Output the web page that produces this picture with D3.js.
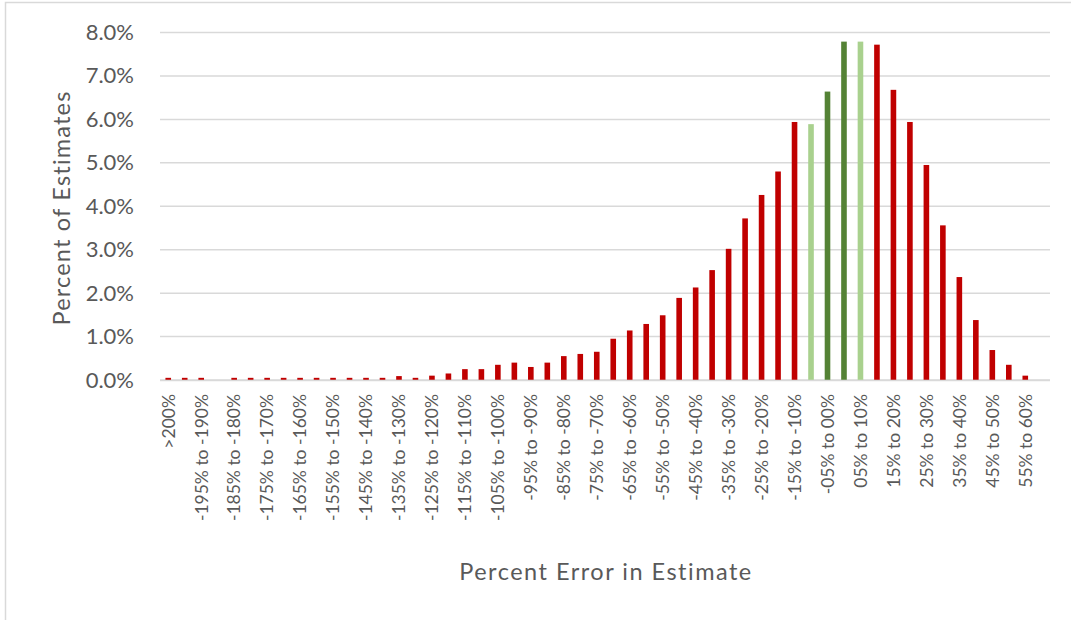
<!DOCTYPE html>
<html>
<head>
<meta charset="utf-8">
<script src="https://cdn.jsdelivr.net/npm/d3@7"></script>
<style>
  html, body { margin: 0; padding: 0; background: #fff; }
  svg { display: block; }
  text { font-family: Lato, "Open Sans", sans-serif; fill: #595959; }
</style>
</head>
<body>
<svg id="chart" width="1071" height="620"></svg>
<script>
// Error buckets (5-point bins), from the overflow bin up to +60%
const categories = [
  ">200%",
  "-200% to -195%", "-195% to -190%", "-190% to -185%", "-185% to -180%",
  "-180% to -175%", "-175% to -170%", "-170% to -165%", "-165% to -160%",
  "-160% to -155%", "-155% to -150%", "-150% to -145%", "-145% to -140%",
  "-140% to -135%", "-135% to -130%", "-130% to -125%", "-125% to -120%",
  "-120% to -115%", "-115% to -110%", "-110% to -105%", "-105% to -100%",
  "-100% to -95%", "-95% to -90%", "-90% to -85%", "-85% to -80%",
  "-80% to -75%", "-75% to -70%", "-70% to -65%", "-65% to -60%",
  "-60% to -55%", "-55% to -50%", "-50% to -45%", "-45% to -40%",
  "-40% to -35%", "-35% to -30%", "-30% to -25%", "-25% to -20%",
  "-20% to -15%", "-15% to -10%", "-10% to -05%", "-05% to 00%",
  "00% to 05%", "05% to 10%", "10% to 15%", "15% to 20%",
  "20% to 25%", "25% to 30%", "30% to 35%", "35% to 40%",
  "40% to 45%", "45% to 50%", "50% to 55%", "55% to 60%",
  "60% to 65%"
];

// Share of estimates in each bucket (percent)
const percentOfEstimates = [
  0.05,
  0.05, 0.05, 0.00, 0.05,
  0.05, 0.05, 0.05, 0.05,
  0.05, 0.05, 0.05, 0.05,
  0.05, 0.09, 0.05, 0.10,
  0.15, 0.25, 0.25, 0.35,
  0.40, 0.30, 0.40, 0.55,
  0.60, 0.65, 0.95, 1.14,
  1.29, 1.49, 1.89, 2.13,
  2.53, 3.02, 3.72, 4.26,
  4.80, 5.94, 5.89, 6.64,
  7.79, 7.79, 7.72, 6.68,
  5.94, 4.95, 3.56, 2.37,
  1.38, 0.69, 0.35, 0.10,
  0.00
];

// Colour group per bucket: within ±10% shown in green
const bucketGroup = categories.map(c => {
  if (c === "-05% to 00%" || c === "00% to 05%") return "within5";
  if (c === "-10% to -05%" || c === "05% to 10%") return "within10";
  return "outside";
});
const groupColor = { within5: "#548235", within10: "#A9D18E", outside: "#C00000" };

const yTicks = [0, 1, 2, 3, 4, 5, 6, 7, 8];

const svg = d3.select("#chart");

// chart frame
svg.append("rect")
  .attr("x", 5.5).attr("y", 2.5)
  .attr("width", 1200).attr("height", 800)
  .attr("fill", "none").attr("stroke", "#d9d9d9").attr("stroke-width", 1.5);

const plot = { left: 160, right: 1050, top: 32.5, bottom: 380 };

const x = d3.scaleBand()
  .domain(categories)
  .range([plot.left, plot.right])
  .paddingInner(0.66)
  .paddingOuter(0.33);

const y = d3.scaleLinear()
  .domain([0, 8])
  .range([plot.bottom, plot.top]);

// gridlines
svg.append("g")
  .selectAll("line")
  .data(yTicks)
  .join("line")
  .attr("x1", plot.left).attr("x2", plot.right)
  .attr("y1", d => y(d)).attr("y2", d => y(d))
  .attr("stroke", "#d9d9d9").attr("stroke-width", 1.5);

// y-axis labels
const yAxis = d3.axisLeft(y)
  .tickValues(yTicks)
  .tickFormat(d => d.toFixed(1) + "%")
  .tickSize(0)
  .tickPadding(0);
const gy = svg.append("g")
  .attr("transform", `translate(134,0)`)
  .call(yAxis);
gy.select(".domain").remove();
gy.selectAll("text")
  .attr("font-size", 22)
  .attr("fill", "#595959")
  .style("font-family", "Lato, 'Open Sans', sans-serif");

// bars
svg.append("g")
  .selectAll("rect")
  .data(categories.map((c, i) => ({ c, v: percentOfEstimates[i], g: bucketGroup[i] })))
  .join("rect")
  .attr("x", d => x(d.c))
  .attr("width", x.bandwidth())
  .attr("y", d => y(d.v))
  .attr("height", d => y(0) - y(d.v))
  .attr("fill", d => groupColor[d.g]);

// x-axis: baseline plus every other bucket label
const xAxis = d3.axisBottom(x)
  .tickValues(categories.filter((c, i) => i % 2 === 0))
  .tickSize(0)
  .tickPadding(0);
const gx = svg.append("g")
  .attr("transform", `translate(0,${plot.bottom})`)
  .call(xAxis);
gx.select(".domain")
  .attr("d", `M${plot.left},0.5H${plot.right}`)
  .attr("stroke", "#d9d9d9").attr("stroke-width", 1.5);
gx.selectAll("text")
  .attr("font-size", 17.5)
  .attr("fill", "#595959")
  .style("font-family", "Lato, 'Open Sans', sans-serif")
  .attr("text-anchor", "end")
  .attr("transform", "translate(0,14) rotate(-90)")
  .attr("x", 0).attr("y", 0).attr("dy", "0.36em");

// axis titles
svg.append("text")
  .attr("x", 606).attr("y", 580)
  .attr("text-anchor", "middle")
  .attr("font-size", 23.5)
  .attr("letter-spacing", 1.5)
  .text("Percent Error in Estimate");

svg.append("text")
  .attr("transform", "translate(70,208) rotate(-90)")
  .attr("text-anchor", "middle")
  .attr("font-size", 23.5)
  .attr("letter-spacing", 1.2)
  .text("Percent of Estimates");
</script>
</body>
</html>
